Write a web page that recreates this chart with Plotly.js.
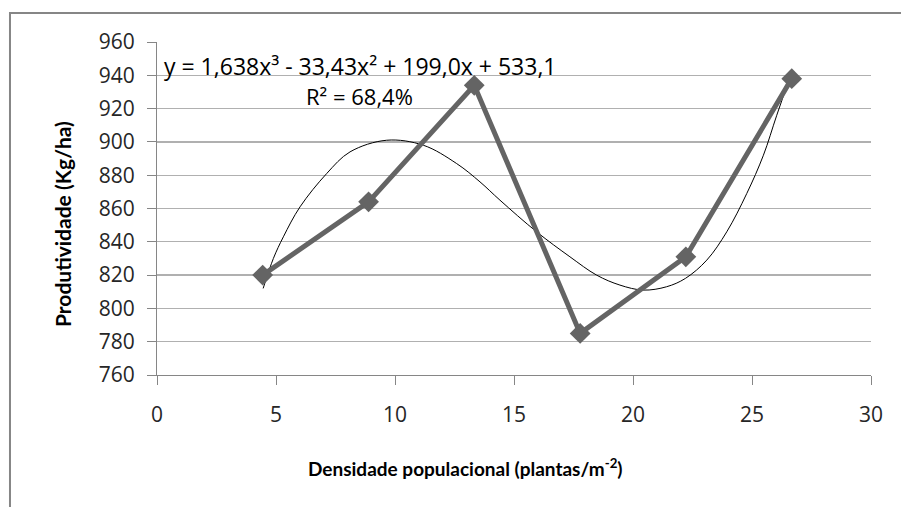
<!DOCTYPE html>
<html>
<head>
<meta charset="utf-8">
<script src="https://cdn.plot.ly/plotly-3.0.1.min.js"></script>
<style>html,body{margin:0;padding:0;background:#fff;}#chart{width:901px;height:507px;}</style>
</head>
<body>
<div id="chart"></div>
<script>
// Observed data (density, yield)
var densidade = [4.44, 8.89, 13.33, 17.78, 22.22, 26.67];
var produtividade = [820, 864, 934, 785, 831, 938];

// Polynomial trend line (order 3)
var trendX = [4.46, 4.89, 5.31, 6.01, 7.13, 8.11, 9.65, 11.19, 12.59, 13.57, 14.41, 15.95, 17.35, 18.47, 19.45, 20.43, 21.41, 22.2, 23.1, 23.94, 24.78, 25.48, 26.04, 26.6];
var trendY = [812, 830, 843, 861, 881, 894, 901, 898, 887, 876, 865, 846, 831, 820, 814, 811, 813, 818, 829, 846, 869, 892, 916, 939];

var xTicks = [0, 5, 10, 15, 20, 25, 30];
var yTicks = [760, 780, 800, 820, 840, 860, 880, 900, 920, 940, 960];

var equationText = 'y = 1,638x³ - 33,43x² + 199,0x + 533,1';
var r2Text = 'R² = 68,4%';
var xTitle = '<b>Densidade populacional (plantas/m<sup>-2</sup>)</b>';
var yTitle = '<b>Produtividade (Kg/ha)</b>';

var tickFont = {family: 'Open Sans, DejaVu Sans, sans-serif', size: 21, color: '#262626'};

var traces = [
  {
    x: trendX, y: trendY, type: 'scatter', mode: 'lines',
    line: {color: '#000000', width: 1, shape: 'spline', smoothing: 1},
    hoverinfo: 'skip', showlegend: false
  },
  {
    x: densidade, y: produtividade, type: 'scatter', mode: 'lines+markers',
    line: {color: '#646464', width: 5},
    marker: {symbol: 'diamond', size: 16, color: '#646464'},
    showlegend: false
  }
];

var layout = {
  width: 901, height: 507,
  margin: {l: 157, r: 30, t: 42, b: 132},
  paper_bgcolor: '#ffffff', plot_bgcolor: '#ffffff',
  showlegend: false,
  xaxis: {
    range: [0, 30], tickvals: xTicks, ticks: 'outside', ticklen: 9, tickcolor: '#868686', tickwidth: 1,
    showline: true, linecolor: '#868686', linewidth: 1, showgrid: false, zeroline: false,
    tickfont: tickFont, ticklabelstandoff: 12
  },
  yaxis: {
    range: [760, 960], tickvals: yTicks, ticks: 'outside', ticklen: 9, tickcolor: '#868686', tickwidth: 1,
    showline: true, linecolor: '#868686', linewidth: 1, showgrid: true, gridcolor: '#b0b0b0', gridwidth: 1.3,
    zeroline: false, tickfont: tickFont, ticklabelstandoff: 8
  },
  shapes: [
    {type: 'rect', xref: 'paper', yref: 'paper', x0: -0.2059, x1: 1.06, y0: -0.42, y1: 1.0871,
     line: {color: '#868686', width: 2}, fillcolor: 'rgba(0,0,0,0)', layer: 'below'}
  ],
  annotations: [
    {text: equationText, xref: 'paper', yref: 'paper', x: (162 - 157) / 714, y: (375 - 66) / 333,
     xanchor: 'left', yanchor: 'middle', showarrow: false,
     font: {family: 'Open Sans, sans-serif', size: 23, color: '#000000'}},
    {text: r2Text, xref: 'paper', yref: 'paper', x: (304 - 157) / 714, y: (375 - 96) / 333,
     xanchor: 'left', yanchor: 'middle', showarrow: false,
     font: {family: 'Open Sans, sans-serif', size: 22, color: '#000000'}},
    {text: xTitle, xref: 'paper', yref: 'paper', x: (465 - 157) / 714, y: (375 - 467) / 333,
     xanchor: 'center', yanchor: 'middle', showarrow: false,
     font: {family: 'Lato, Open Sans, sans-serif', size: 19, color: '#000000'}},
    {text: yTitle, xref: 'paper', yref: 'paper', x: (62 - 157) / 714, y: (375 - 224) / 333,
     xanchor: 'center', yanchor: 'middle', textangle: -90, showarrow: false,
     font: {family: 'Lato, Open Sans, sans-serif', size: 21, color: '#000000'}}
  ]
};

Plotly.newPlot('chart', traces, layout, {displayModeBar: false, staticPlot: true});
</script>
</body>
</html>
